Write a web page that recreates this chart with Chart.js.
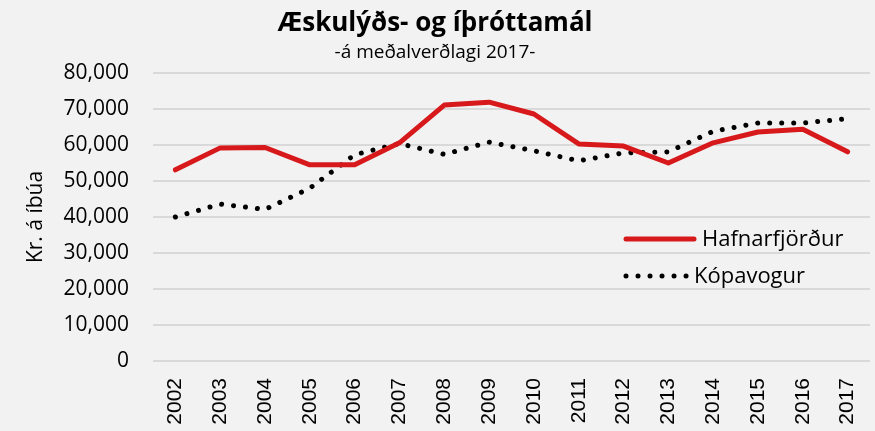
<!DOCTYPE html>
<html>
<head>
<meta charset="utf-8">
<script src="https://cdn.jsdelivr.net/npm/chart.js@4.4.1/dist/chart.umd.min.js"></script>
<style>
  html, body { margin: 0; padding: 0; background: #f2f2f2; }
  #wrap { width: 875px; height: 431px; }
</style>
</head>
<body>
<div id="wrap"><canvas id="c" width="875" height="431"></canvas></div>
<script>
const years = ['2002','2003','2004','2005','2006','2007','2008','2009','2010','2011','2012','2013','2014','2015','2016','2017'];
const hafnarfjordur = [53100, 59200, 59300, 54500, 54500, 60600, 71100, 71900, 68600, 60300, 59700, 55000, 60600, 63600, 64400, 58100];
const kopavogur     = [40000, 43600, 42100, 48000, 57300, 60400, 57400, 60800, 58400, 55600, 57800, 58100, 63800, 66100, 66100, 67300];
const seriesNames = ['Hafnarfjörður', 'Kópavogur'];
const titleText = 'Æskulýðs- og íþróttamál';
const subtitleText = '-á meðalverðlagi 2017-';
const yAxisTitle = 'Kr. á íbúa';

const FONT = '"Open Sans", "Noto Sans", sans-serif';

const bgPlugin = {
  id: 'bg',
  beforeDraw(chart) {
    const ctx = chart.ctx;
    ctx.save();
    ctx.fillStyle = '#f2f2f2';
    ctx.fillRect(0, 0, chart.width, chart.height);
    ctx.restore();
  }
};

const insideLegend = {
  id: 'insideLegend',
  afterDatasetsDraw(chart) {
    const ctx = chart.ctx;
    const rows = [
      { x0: 626, x1: 694, y: 239, tx: 702 },
      { x0: 626, x1: 688, y: 276, tx: 694 }
    ];
    chart.data.datasets.forEach((ds, i) => {
      const r = rows[i];
      ctx.save();
      ctx.strokeStyle = ds.borderColor;
      ctx.lineWidth = ds.borderWidth;
      ctx.lineCap = ds.borderCapStyle || 'butt';
      ctx.setLineDash(ds.borderDash || []);
      ctx.beginPath();
      ctx.moveTo(r.x0, r.y);
      ctx.lineTo(r.x1, r.y);
      ctx.stroke();
      ctx.setLineDash([]);
      ctx.fillStyle = '#000';
      ctx.font = '22px ' + FONT;
      ctx.textBaseline = 'middle';
      ctx.textAlign = 'left';
      ctx.fillText(ds.label, r.tx, r.y + 1);
      ctx.restore();
    });
  }
};

new Chart(document.getElementById('c'), {
  type: 'line',
  data: {
    labels: years,
    datasets: [
      {
        label: seriesNames[0],
        data: hafnarfjordur,
        borderColor: '#d7191c',
        backgroundColor: '#d7191c',
        borderWidth: 5,
        borderCapStyle: 'round',
        borderJoinStyle: 'round',
        pointRadius: 0,
        tension: 0
      },
      {
        label: seriesNames[1],
        data: kopavogur,
        borderColor: '#000000',
        backgroundColor: '#000000',
        borderWidth: 5,
        borderDash: [0.01, 12],
        borderCapStyle: 'round',
        borderJoinStyle: 'round',
        pointRadius: 0,
        tension: 0
      }
    ]
  },
  options: {
    responsive: false,
    animation: false,
    devicePixelRatio: 1,
    layout: { padding: { left: 0, right: 5, top: 0, bottom: 0 } },
    plugins: {
      legend: { display: false },
      tooltip: { enabled: false },
      title: {
        display: true,
        text: titleText,
        color: '#000',
        font: { family: FONT, size: 26, weight: 'bold' },
        padding: { top: 8, bottom: 0 }
      },
      subtitle: {
        display: true,
        text: subtitleText,
        color: '#000',
        font: { family: FONT, size: 19 },
        padding: { top: 2, bottom: 9 }
      }
    },
    scales: {
      x: {
        offset: true,
        grid: { display: false, drawTicks: false },
        border: { display: false },
        ticks: {
          color: '#000',
          font: { family: '"Liberation Sans", Arial, sans-serif', size: 21 },
          minRotation: 90,
          maxRotation: 90,
          padding: 17,
          autoSkip: false
        },
        afterFit(scale) {
          scale.height = 70;
          scale.paddingLeft = 0;
          scale.paddingRight = 0;
        }
      },
      y: {
        min: 0,
        max: 80000,
        ticks: {
          stepSize: 10000,
          color: '#000',
          font: { family: FONT, size: 21 },
          padding: 24,
          callback: v => v.toLocaleString('en-US')
        },
        grid: { color: '#d9d9d9', lineWidth: 2, drawTicks: false },
        border: { display: false },
        title: {
          display: true,
          text: yAxisTitle,
          color: '#000',
          font: { family: FONT, size: 21 },
          padding: { top: 23, bottom: 4 }
        },
        afterFit(scale) { scale.width = 153; }
      }
    }
  },
  plugins: [bgPlugin, insideLegend]
});
</script>
</body>
</html>
